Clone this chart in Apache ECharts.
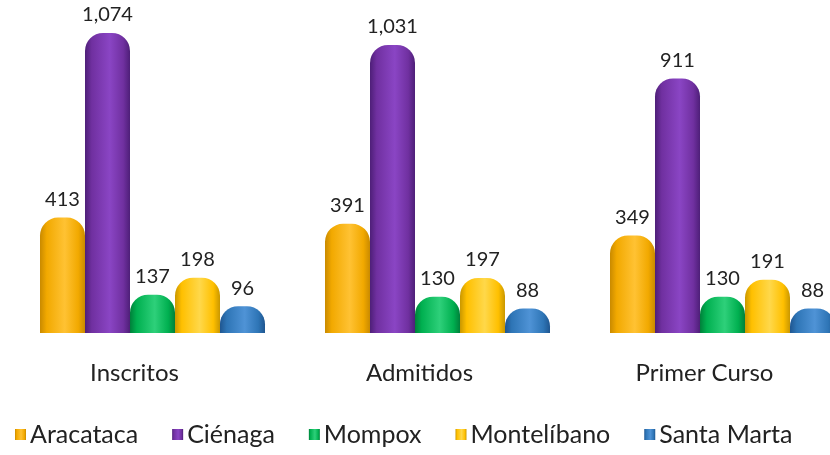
<!DOCTYPE html>
<html>
<head>
<meta charset="utf-8">
<script src="https://cdn.jsdelivr.net/npm/echarts@6/dist/echarts.min.js"></script>
<style>
  html, body { margin: 0; padding: 0; background: #fff; }
  #chart { width: 830px; height: 455px; }
</style>
</head>
<body>
<div id="chart"></div>
<script>
// categorias y valores
const categories = ['Inscritos', 'Admitidos', 'Primer Curso'];
const aracataca = [413, 391, 349];
const cienaga = [1074, 1031, 911];
const mompox = [137, 130, 130];
const montelibano = [198, 197, 191];
const santaMarta = [96, 88, 88];

const seriesNames = ['Aracataca', 'Ciénaga', 'Mompox', 'Montelíbano', 'Santa Marta'];
const seriesData = [aracataca, cienaga, mompox, montelibano, santaMarta];
// [oscuro, claro, base]
const palette = [
  ['#c98a00', '#ffc233', '#f2a900'],
  ['#4e1f78', '#8a45c4', '#7030a0'],
  ['#00803a', '#2ed07a', '#00b050'],
  ['#c99700', '#ffd84a', '#ffc000'],
  ['#1f5690', '#4f93d6', '#2e75b6']
];

function cylinder(c) {
  return new echarts.graphic.LinearGradient(0, 0, 1, 0, [
    { offset: 0, color: c[0] },
    { offset: 0.15, color: c[2] },
    { offset: 0.55, color: c[1] },
    { offset: 0.85, color: c[2] },
    { offset: 1, color: c[0] }
  ]);
}

const chart = echarts.init(document.getElementById('chart'));
const option = {
  animation: false,
  textStyle: { fontFamily: 'Lato, "Noto Sans", sans-serif' },
  color: palette.map(c => c[2]),
  grid: { left: 10, width: 855, top: 0, bottom: 122, containLabel: false, outerBoundsMode: 'none' },
  legend: {
    bottom: 3,
    left: 10,
    itemWidth: 11,
    itemHeight: 11,
    itemGap: 34,
    icon: 'rect',
    textStyle: { fontSize: 25, color: '#222', padding: [0, 0, 0, -1] },
    data: seriesNames
  },
  xAxis: {
    type: 'category',
    data: categories,
    axisLine: { show: false },
    axisTick: { show: false },
    axisLabel: { fontSize: 24, color: '#222', margin: 28, padding: [0, 36, 0, 0] }
  },
  yAxis: {
    type: 'value',
    min: 0,
    max: 1192,
    show: false,
    splitLine: { show: false }
  },
  series: seriesNames.map((name, i) => ({
    name: name,
    type: 'bar',
    data: seriesData[i],
    barWidth: 45,
    barGap: '0%',
    barCategoryGap: '21%',
    itemStyle: {
      color: cylinder(palette[i]),
      borderRadius: [18, 18, 0, 0]
    },
    label: {
      show: true,
      position: 'top',
      distance: 8,
      fontSize: 20,
      color: '#222',
      formatter: p => p.value.toLocaleString('en-US')
    }
  }))
};
chart.setOption(option);
</script>
</body>
</html>
